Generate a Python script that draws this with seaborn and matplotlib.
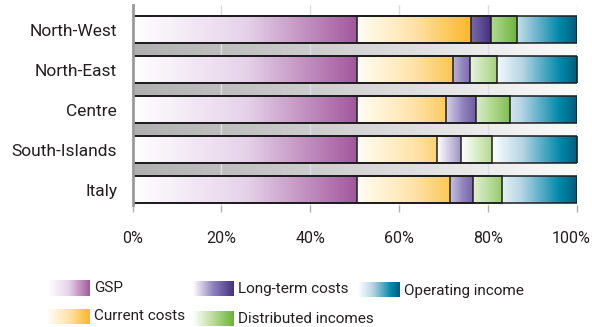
import numpy as np
import pandas as pd
import matplotlib
matplotlib.use("Agg")
import matplotlib.pyplot as plt
import matplotlib.transforms as mtransforms
import seaborn as sns
from matplotlib.colors import LinearSegmentedColormap

# Composition of value (shares, %)
regions = ["North-West", "North-East", "Centre", "South-Islands", "Italy"]
gsp = [50.4, 50.4, 50.4, 50.4, 50.4]
current_costs = [25.8, 21.7, 20.2, 18.0, 21.0]
long_term_costs = [4.4, 3.8, 6.6, 5.4, 5.1]
distributed_incomes = [6.0, 6.0, 7.8, 7.0, 6.7]
operating_income = [13.4, 18.1, 15.0, 19.2, 16.8]

series_names = ["GSP", "Current costs", "Long-term costs",
                "Distributed incomes", "Operating income"]
series_values = [gsp, current_costs, long_term_costs,
                 distributed_incomes, operating_income]

tick_values = [0, 20, 40, 60, 80, 100]
tick_labels = ["0%", "20%", "40%", "60%", "80%", "100%"]

series_cmaps = {
    "GSP": LinearSegmentedColormap.from_list("gsp", ["#ffffff", "#e6d3ea", "#a2579c"]),
    "Current costs": LinearSegmentedColormap.from_list("cur", ["#fffdf6", "#fee3a8", "#fbb726"]),
    "Long-term costs": LinearSegmentedColormap.from_list("lt", ["#ffffff", "#8e81bd", "#44307f"]),
    "Distributed incomes": LinearSegmentedColormap.from_list("dist", ["#ffffff", "#b9dc98", "#6bb23a"]),
    "Operating income": LinearSegmentedColormap.from_list(
        "op", [(0.0, "#ffffff"), (0.35, "#b6d6e4"), (0.8, "#0087a8"), (1.0, "#005d7e")]),
}
shadow_cmap = LinearSegmentedColormap.from_list("shadow", ["#b0b0b0", "#d4d4d4", "#fcfcfc"])

sns.set_theme(style="white")
plt.rcParams["font.family"] = ["Roboto", "DejaVu Sans"]
text_color = "#231f20"

W, H = 592, 327
fig = plt.figure(figsize=(W / 100, H / 100), dpi=100)
ax = fig.add_axes([132.5 / W, 1 - 204.5 / H, (577 - 132.5) / W, (204.5 - 5) / H])

values = np.array(series_values)          # series x region
ends = np.cumsum(values, axis=0)
starts = ends - values

bar_h = 0.67

# Outlines: cumulative bars, longest first, drawn through seaborn
for k in range(len(series_names) - 1, -1, -1):
    df = pd.DataFrame({"region": regions, "share": ends[k]})
    sns.barplot(data=df, x="share", y="region", order=regions, orient="h",
                width=bar_h, ax=ax, color="#ffffff")

outline_patches = list(ax.patches)
for p in outline_patches:
    p.set_facecolor("none")
    p.set_edgecolor("#1e1e1e")
    p.set_linewidth(1.1)
    p.set_zorder(4)

# Full-length bars (first drawn) give the positions for the shadows
full_bars = outline_patches[:len(regions)]
for p in full_bars:
    y_top = p.get_y() + p.get_height()
    y_next = p.get_y() + 1.0
    grad = np.linspace(0, 1, 256).reshape(1, -1)
    ax.imshow(grad, cmap=shadow_cmap, vmin=0, vmax=1, aspect="auto",
              extent=[0, ends[-1].max(), y_next, y_top], zorder=1,
              interpolation="bilinear")

# Gradient fills for every segment, scaled across each series' full span
for k, name in enumerate(series_names):
    smin = starts[k].min()
    smax = ends[k].max()
    for i, p in enumerate(full_bars):
        x0, x1 = starts[k][i], ends[k][i]
        g = np.linspace((x0 - smin) / (smax - smin), (x1 - smin) / (smax - smin), 256).reshape(1, -1)
        ax.imshow(g, cmap=series_cmaps[name], vmin=0, vmax=1, aspect="auto",
                  extent=[x0, x1, p.get_y() + p.get_height(), p.get_y()],
                  zorder=2, interpolation="bilinear")

ax.set_xlim(0, 100)
ax.set_ylim(4.364, -0.611)
ax.set_xticks(tick_values)
ax.set_xticklabels(tick_labels)
ax.set_xlabel("")
ax.set_ylabel("")

ax.set_axisbelow("line")
ax.grid(axis="x", color="#dcdce4", linewidth=1.0)
ax.grid(axis="y", visible=False)

for s in ["top", "right", "bottom"]:
    ax.spines[s].set_visible(False)
ax.spines["left"].set_color("#9a9a9a")
ax.spines["left"].set_linewidth(2.0)
ax.spines["left"].set_zorder(5)

ax.tick_params(axis="x", bottom=True, length=5, width=1, color="#b0b0b0",
               pad=14, labelsize=11.5, labelcolor=text_color)
ax.tick_params(axis="y", left=False, length=0, pad=11, labelsize=12.5, labelcolor=text_color)

# keep the last percentage label inside the figure
last = ax.get_xticklabels()[-1]
last.set_transform(last.get_transform() +
                   mtransforms.ScaledTranslation(-5.5 / 100, 0, fig.dpi_scale_trans))

# Legend with gradient swatches, laid out in pixel coordinates
lax = fig.add_axes([0, 0, 1, 1], zorder=-1)
lax.set_xlim(0, W)
lax.set_ylim(H, 0)
lax.axis("off")
legend_layout = {
    "GSP": (48, 90, 280.5, 296, 94, 288.5),
    "Current costs": (48, 90, 309, 324, 94, 316.5),
    "Long-term costs": (192.5, 233.5, 282, 296.5, 238.5, 289.5),
    "Distributed incomes": (192.5, 233.5, 311.5, 326.5, 238.5, 319),
    "Operating income": (358, 400, 282.5, 297, 404, 290.5),
}
for name in series_names:
    x0, x1, y0, y1, tx, ty = legend_layout[name]
    grad = np.linspace(0, 1, 256).reshape(1, -1)
    lax.imshow(grad, cmap=series_cmaps[name], vmin=0, vmax=1, aspect="auto",
               extent=[x0, x1, y1, y0], interpolation="bilinear")
    lax.text(tx, ty, name, fontsize=11, color=text_color, va="center", ha="left")
lax.set_xlim(0, W)
lax.set_ylim(H, 0)

fig.savefig("out.png", dpi=100, facecolor="white")
